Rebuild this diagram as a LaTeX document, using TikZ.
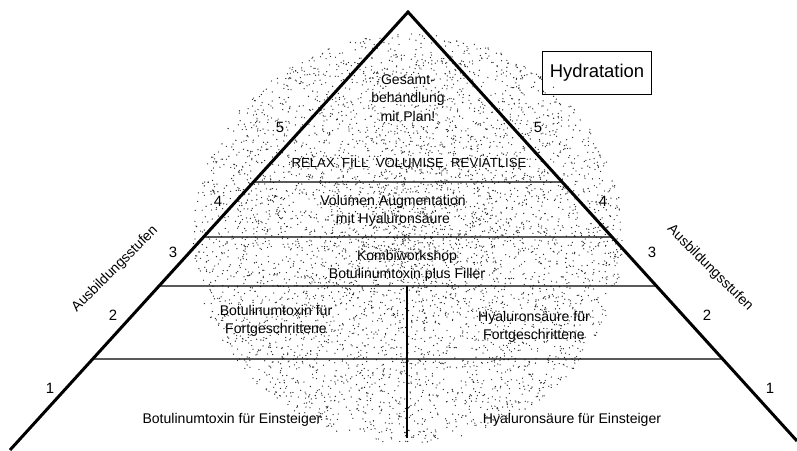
\documentclass[tikz,border=0pt]{standalone}
\usepackage{fontspec}
\setmainfont{Liberation Sans}
\usetikzlibrary{calc}

\begin{document}
\begin{tikzpicture}[x=0.02cm, y=-0.02cm,
        side/.style={line width=1.7pt},
        level/.style={line width=0.7pt},
        stage/.style={font=\fontsize{8}{10.5}\selectfont, align=center, inner sep=1pt},
        num/.style={font=\fontsize{8.5}{10}\selectfont},
        stufen/.style={font=\fontsize{8}{10}\selectfont, inner sep=0pt}]

    \useasboundingbox (0,0) rectangle (797,450);

    % Pyramid corners
    \coordinate (apex) at (408,12);
    \coordinate (bl) at (10,450);
    \coordinate (br) at (797,441);

    % Stippled cloud behind the pyramid
    \coordinate (cloud) at (408,238);
    \pgfmathsetseed{42}
    \foreach \i in {1,...,5500} {
        \pgfmathsetmacro{\r}{rnd^0.6}
        \pgfmathsetmacro{\a}{360*rnd}
        \fill[black!85] ($(cloud)+(\a:{215*\r} and {205*\r})$) circle (0.38pt);
    }

    % Level lines, ending on the sides
    \foreach \y/\n in {182/motto, 237/vol, 286/kombi, 359/fort} {
        \coordinate (\n-l) at ($(apex)!{(\y-12)/438}!(bl)$);
        \coordinate (\n-r) at ($(apex)!{(\y-12)/429}!(br)$);
        \draw[level] (\n-l) -- (\n-r);
    }
    \coordinate (split) at (407,438);
    \draw[level] (split |- kombi-l) -- (split);

    % Pyramid sides
    \draw[side] (bl) -- (apex) -- (br);

    % Stage texts
    \node[stage] (gesamt) at (408,98) {Gesamt-\\behandlung\\mit Plan!};
    \node[stage, font=\fontsize{7.5}{9}\selectfont] (motto) at (409,163) {RELAX~ FILL~ VOLUMISE~ REVIATLISE};
    \node[stage] (volumen) at (393,211) {Volumen Augmentation\\mit Hyaluronsäure};
    \node[stage] (kombi) at (407,266) {Kombiworkshop\\Botulinumtoxin plus Filler};
    \node[stage] (botoxF) at (276,321) {Botulinumtoxin für\\Fortgeschrittene};
    \node[stage] (hyalF) at (534,327) {Hyaluronsäure für\\Fortgeschrittene};
    \node[stage] (botoxE) at (232,420) {Botulinumtoxin für Einsteiger};
    \node[stage] (hyalE) at (572,420) {Hyaluronsäure für Einsteiger};

    % Level numbers on both sides
    \foreach \k/\xl/\xr/\y in {5/280/538/127, 4/218/603/201, 3/173/652/252, 2/113/707/315, 1/50/770/388} {
        \node[num] (numL\k) at (\xl,\y) {\k};
        \node[num] (numR\k) at (\xr,\y) {\k};
    }

    % Side captions
    \node[stufen, rotate=45] (stufenL) at (115,269) {Ausbildungsstufen};
    \node[stufen, rotate=-45] (stufenR) at (710,268) {Ausbildungsstufen};

    % Title box
    \node[draw, line width=0.6pt, font=\fontsize{10.5}{12}\selectfont,
          minimum width=62pt, minimum height=24pt] (hydra) at (597,73) {Hydratation};
\end{tikzpicture}
\end{document}
